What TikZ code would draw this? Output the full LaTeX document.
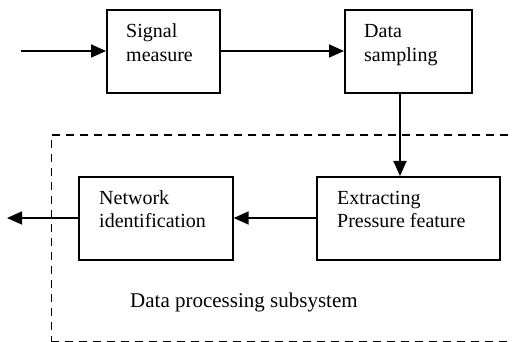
\documentclass[tikz,border=0pt]{standalone}
\usepackage{fontspec}
\setmainfont{Liberation Serif}
\usetikzlibrary{arrows.meta}
\begin{document}
\begin{tikzpicture}[x=1pt,y=-1pt,
  blk/.style={draw,line width=1.7pt,minimum width=#1,minimum height=83pt,inner sep=0pt},
  txt/.style={anchor=base west,inner sep=0pt,font=\fontsize{20}{24}\selectfont,align=left},
  arr/.style={line width=1.7pt,-{Triangle[length=15pt,width=13pt]}},
  dashbox/.style={draw,line width=1.8pt,dash pattern=on 8pt off 6pt}]
\useasboundingbox (0,0) rectangle (512,342);
\node[dashbox,minimum width=461pt,minimum height=207pt,inner sep=0pt,anchor=north west] (sub) at (50.5,134) {};
\node[blk=113pt,anchor=north west] (sm) at (106,9) {};
\node[blk=127pt,anchor=north west] (ds) at (344,9) {};
\node[blk=154pt,anchor=north west] (ni) at (78,176) {};
\node[blk=183pt,anchor=north west] (ex) at (316,176) {};
\node[txt] (smt) at (126,38) {Signal};
\node[txt] (smt2) at (126,62) {measure};
\node[txt] (dst) at (364,38) {Data};
\node[txt] (dst2) at (364,62) {sampling};
\node[txt] (nit) at (99,205) {Network};
\node[txt] (nit2) at (99,228) {identification};
\node[txt] (ext) at (337,205) {Extracting};
\node[txt] (ext2) at (337,228) {Pressure feature};
\node[txt,font=\fontsize{21}{25}\selectfont] (subt) at (130,308) {Data processing subsystem};
\coordinate (in) at (21,51);
\coordinate (out) at (7,218);
\coordinate (dx) at (400,0);
\draw[arr] (in) -- (sm.west |- in);
\draw[arr] (sm.east |- in) -- (ds.west |- in);
\draw[arr] (ds.south -| dx) -- (ex.north -| dx);
\draw[arr] (ex.west |- out) -- (ni.east |- out);
\draw[arr] (ni.west |- out) -- (out);
\end{tikzpicture}
\end{document}
